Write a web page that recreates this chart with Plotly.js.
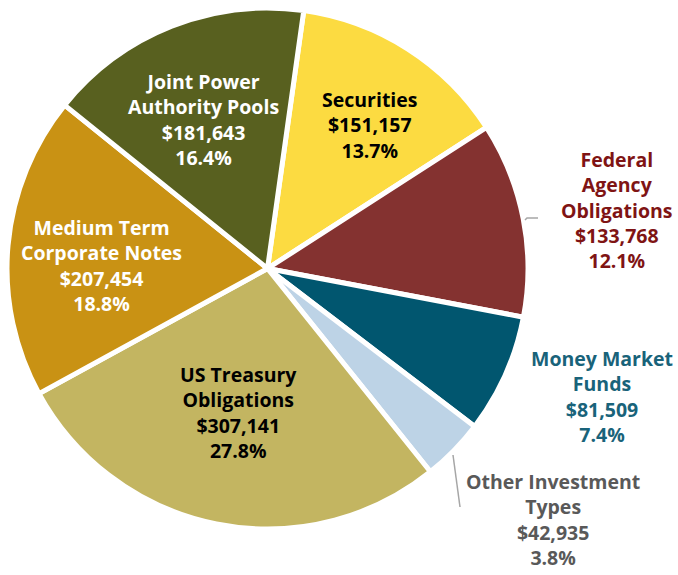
<!DOCTYPE html>
<html>
<head>
<meta charset="utf-8">
<script src="https://cdn.plot.ly/plotly-3.0.1.min.js"></script>
<style>html,body{margin:0;padding:0;background:#fff;}#chart{width:678px;height:575px;}</style>
</head>
<body>
<div id="chart"></div>
<script>
const categories = ["Securities", "Federal Agency Obligations", "Money Market Funds", "Other Investment Types", "US Treasury Obligations", "Medium Term Corporate Notes", "Joint Power Authority Pools"];
const labelLines = ["Securities", "Federal<br>Agency<br>Obligations", "Money Market<br>Funds", "Other Investment<br>Types", "US Treasury<br>Obligations", "Medium Term<br>Corporate Notes", "Joint Power<br>Authority Pools"];
const amounts = [151157, 133768, 81509, 42935, 307141, 207454, 181643];
const percents = [13.7, 12.1, 7.4, 3.8, 27.8, 18.8, 16.4];
const sliceColors = ["#FCDB41", "#843230", "#01566F", "#BDD3E6", "#C3B561", "#C99214", "#58601F"];
const textColors = ["#000000", "#7F1414", "#19637A", "#595959", "#000000", "#FFFFFF", "#FFFFFF"];
const labelPos = [[370,125],[617,210],[602,396],[553,519],[238,412],[101,265],[203,119]];

const W = 678, H = 575;
const px = x => x / W;
const py = y => 1 - y / H;

const trace = {
  type: "pie",
  labels: categories,
  values: amounts,
  sort: false,
  direction: "clockwise",
  rotation: 8,
  marker: {colors: sliceColors, line: {color: "#FFFFFF", width: 5}},
  textinfo: "none",
  hoverinfo: "label+value+percent",
  domain: {x: [px(7), px(528)], y: [py(529), py(8)]},
  showlegend: false
};

const annotations = categories.map((c, i) => ({
  xref: "paper", yref: "paper",
  x: px(labelPos[i][0]), y: py(labelPos[i][1]),
  xanchor: "center", yanchor: "middle",
  showarrow: false,
  align: "center",
  text: labelLines[i] + "<br>$" + amounts[i].toLocaleString("en-US") + "<br>" + percents[i].toFixed(1) + "%",
  font: {family: "'Open Sans', Lato, sans-serif", size: 19.5, color: textColors[i], weight: "bold"}
}));

const shapes = [
  {type: "path", xref: "paper", yref: "paper",
   path: "M " + px(525) + "," + py(220) + " L " + px(527) + "," + py(218) + " L " + px(538) + "," + py(218),
   line: {color: "#A6A6A6", width: 1.5}},
  {type: "line", xref: "paper", yref: "paper",
   x0: px(453), y0: py(455), x1: px(460), y1: py(507),
   line: {color: "#A6A6A6", width: 1.5}}
];

const layout = {
  width: W, height: H,
  margin: {l: 0, r: 0, t: 0, b: 0},
  paper_bgcolor: "#FFFFFF",
  annotations: annotations,
  shapes: shapes,
  showlegend: false
};

Plotly.newPlot("chart", [trace], layout, {displayModeBar: false, staticPlot: true});
</script>
</body>
</html>
